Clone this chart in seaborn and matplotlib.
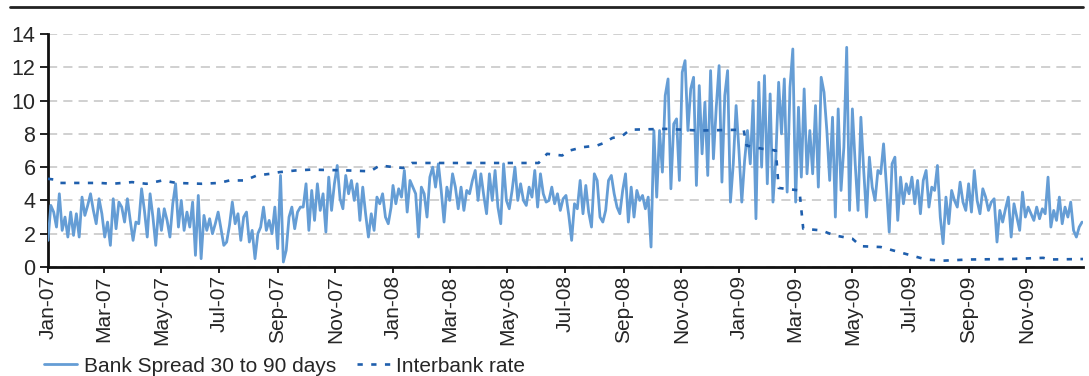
import matplotlib
matplotlib.use("Agg")
import matplotlib.pyplot as plt
import matplotlib.dates as mdates
from matplotlib.lines import Line2D
import numpy as np
import pandas as pd
import seaborn as sns

# Bank spread 30 to 90 days, one reading every third day
spread_2007 = [
    1.6, 3.7, 3.3, 2.4, 4.4, 2.2, 3.0, 1.8, 3.3, 1.9,
    3.2, 1.8, 4.2, 3.1, 3.7, 4.4, 3.4, 2.6, 4.1, 3.2,
    1.8, 2.7, 1.3, 4.1, 2.3, 3.9, 3.6, 2.7, 4.1, 2.8,
    1.6, 2.7, 2.6, 4.7, 3.4, 1.8, 4.4, 3.0, 1.3, 3.5,
    2.2, 3.5, 2.8, 1.8, 3.8, 5.0, 2.4, 4.0, 2.2, 3.3,
    2.4, 3.9, 0.7, 4.3, 0.5, 3.1, 2.2, 2.9, 2.0, 2.6,
    3.3, 2.3, 1.3, 1.5, 2.5, 3.9, 2.6, 3.2, 1.6, 3.0,
    3.3, 1.5, 2.2, 0.5, 2.0, 2.4, 3.6, 2.2, 2.8, 2.0,
    3.6, 1.1, 5.5, 0.3, 1.0, 3.0, 3.6, 2.3, 3.3, 3.6,
    3.6, 5.0, 2.2, 4.6, 2.8, 5.0, 3.4, 4.4, 2.1, 5.4,
    3.4, 5.0, 6.1, 4.1, 3.5, 5.5, 4.4, 5.2, 4.0, 5.0,
    2.8, 4.8, 3.2, 1.8, 3.2, 2.2, 4.2, 3.8, 4.4, 3.0,
    2.6, 3.6,
]

spread_2008 = [
    4.9, 3.8, 4.7, 4.2, 5.8, 3.3, 5.2, 4.8, 4.4, 1.8,
    4.8, 4.4, 3.0, 5.4, 6.0, 4.8, 6.2, 4.6, 2.7, 4.8,
    4.0, 5.6, 4.8, 3.5, 4.8, 3.4, 4.6, 4.4, 5.2, 5.8,
    4.0, 5.6, 4.3, 3.2, 5.6, 4.0, 5.8, 3.6, 2.6, 6.2,
    4.0, 3.5, 4.6, 6.0, 4.0, 5.0, 4.0, 3.7, 4.8, 4.2,
    5.8, 3.6, 5.6, 4.4, 3.9, 4.0, 4.8, 3.8, 4.4, 3.4,
    4.1,
    4.3, 3.1, 1.6, 3.8, 3.5, 5.2, 3.2, 4.9, 3.3, 2.4,
    5.6, 5.2, 3.0, 2.7, 3.4, 5.2, 5.5, 4.4, 3.6, 3.2,
    4.6, 5.6, 2.7, 4.8, 3.0, 4.6, 4.0, 4.3, 3.5, 4.2,
    1.2,
    8.2, 4.2, 8.2, 5.7, 10.3, 11.3, 4.7, 8.6, 8.9, 5.2,
    11.7, 12.4, 8.2, 10.7, 11.4, 4.9, 10.9, 6.8, 9.9, 5.5,
    11.8, 6.5, 9.6, 12.1, 5.1, 10.3, 11.8, 3.9, 6.2, 9.7,
]

spread_2009 = [
    7.0, 3.9, 6.4, 8.2, 6.2, 10.0, 2.9, 11.1, 6.0, 11.5,
    5.0, 10.4, 3.9, 6.5, 11.1, 8.0, 11.3, 4.5, 10.8, 13.1,
    3.9, 9.6, 5.4, 10.7, 5.6, 8.2, 5.6, 9.7, 4.8, 11.4,
    10.5, 8.2, 5.2, 9.0, 3.0, 9.5, 4.6, 7.2, 13.2, 3.4,
    9.5, 6.2, 3.4, 9.0, 5.8, 3.0, 6.6, 4.8, 4.0, 5.8,
    5.6, 7.4, 4.9, 2.1, 6.2, 6.6, 2.8, 5.4, 3.8, 5.0,
    4.4, 5.4, 3.8, 5.2, 3.2, 5.2, 5.8, 3.6, 4.8, 4.6,
    6.1, 3.0, 1.4, 4.2, 2.6, 4.6, 4.0, 3.6, 5.1, 3.9,
    3.4, 5.0, 3.3, 5.8, 4.0, 3.2, 4.7, 4.2, 3.4, 3.9,
    4.1, 1.5, 3.4, 2.7, 3.5, 4.2, 1.8, 3.8, 3.0, 2.2,
    4.5, 3.0, 3.6, 3.2, 2.8, 3.6, 2.9, 3.5, 3.2, 5.4,
    2.4, 3.4, 2.8, 4.2, 2.6, 3.6, 3.0, 3.9, 2.2, 1.8,
    2.4, 2.7,
]

# Interbank rate at the dates where it changes level
interbank_dates = [
    "2007-01-01", "2007-01-08", "2007-01-12", "2007-02-25", "2007-03-10",
    "2007-03-31", "2007-04-15", "2007-05-02", "2007-05-17", "2007-06-13",
    "2007-07-01", "2007-07-12", "2007-07-28", "2007-08-10", "2007-08-24",
    "2007-09-03", "2007-09-20", "2007-10-06", "2007-11-15", "2007-12-08",
    "2007-12-18", "2008-01-02", "2008-01-12", "2008-01-21", "2008-06-03",
    "2008-06-12", "2008-06-28", "2008-07-06", "2008-07-20", "2008-08-04",
    "2008-08-11", "2008-08-20", "2008-08-31", "2008-09-08", "2008-10-15",
    "2008-11-20", "2009-01-06", "2009-01-09", "2009-01-26", "2009-02-09",
    "2009-02-12", "2009-03-06", "2009-03-10", "2009-03-29", "2009-04-12",
    "2009-05-01", "2009-05-10", "2009-05-31", "2009-06-16", "2009-07-02",
    "2009-07-18", "2009-08-05", "2009-09-01", "2009-10-15", "2009-11-19",
    "2009-11-25", "2009-12-31",
]
interbank_values = [
    5.3, 5.25, 5.05, 5.05, 5.0,
    5.1, 5.0, 5.2, 5.05, 5.0,
    5.05, 5.2, 5.2, 5.5, 5.6,
    5.7, 5.8, 5.85, 5.8, 5.75,
    6.1, 6.0, 5.95, 6.25, 6.25,
    6.8, 6.7, 7.0, 7.2, 7.3,
    7.45, 7.75, 7.9, 8.25, 8.3,
    8.2, 8.25, 7.3, 7.1, 7.0,
    4.75, 4.6, 2.3, 2.2, 1.9,
    1.7, 1.25, 1.2, 0.95, 0.7,
    0.45, 0.38, 0.45, 0.48, 0.55,
    0.45, 0.48,
]

spread_dates = np.concatenate([
    pd.date_range("2007-01-01", periods=len(spread_2007), freq="3D"),
    pd.date_range("2008-01-01", periods=len(spread_2008), freq="3D"),
    pd.date_range("2009-01-01", periods=len(spread_2009), freq="3D"),
])
spread = pd.DataFrame({
    "date": pd.to_datetime(spread_dates),
    "value": spread_2007 + spread_2008 + spread_2009,
})
interbank = pd.DataFrame({
    "date": pd.to_datetime(interbank_dates),
    "value": interbank_values,
})

sns.set_theme(style="white")
plt.rcParams["font.family"] = ["Liberation Sans", "DejaVu Sans"]

W, H = 1089, 376
fig = plt.figure(figsize=(W / 100, H / 100), dpi=100)
ax = fig.add_axes([48 / W, 1 - 267 / H, (1083 - 48) / W, (267 - 34) / H])

sns.lineplot(data=spread, x="date", y="value", ax=ax, color="#659DD5",
             linewidth=2.0, label="Bank Spread 30 to 90 days", zorder=3)
sns.lineplot(data=interbank, x="date", y="value", ax=ax, color="#1F5FAD",
             linewidth=1.9, linestyle=(0, (2.0, 3.2)),
             label="Interbank rate", zorder=4)

ax.set_xlim(pd.Timestamp("2007-01-01"), pd.Timestamp("2009-12-31"))
ax.set_ylim(0, 14)
ax.set_yticks(range(0, 15, 2))
ax.set_xlabel("")
ax.set_ylabel("")

ax.xaxis.set_major_locator(mdates.MonthLocator(bymonth=[1, 3, 5, 7, 9, 11]))
ax.xaxis.set_major_formatter(mdates.DateFormatter("%b-%y"))
plt.setp(ax.get_xticklabels(), rotation=90, ha="center", va="top")

ax.yaxis.grid(True, color="#C4C4C4", linestyle=(0, (6, 4)), linewidth=1.1)
ax.xaxis.grid(False)
ax.set_axisbelow(True)

for side in ("top", "right"):
    ax.spines[side].set_visible(False)
for side in ("left", "bottom"):
    ax.spines[side].set_color("#111111")
    ax.spines[side].set_linewidth(2.0)

ax.tick_params(axis="y", direction="out", length=6, width=1.3,
               color="#111111", labelsize=15.5, pad=3, left=True)
ax.tick_params(axis="x", direction="out", length=4, width=1.3,
               color="#111111", labelsize=15, pad=2, bottom=True)

ax.get_legend().remove()
handles, labels = ax.get_legend_handles_labels()
fig.legend(handles, labels, loc="center left",
           bbox_to_anchor=(44 / W, 1 - 366 / H), ncol=2, frameon=False,
           fontsize=15, handlelength=1.6, handletextpad=0.3,
           columnspacing=1.0, borderpad=0, borderaxespad=0)

# heavy rule across the top of the panel
fig.add_artist(Line2D([10 / W, 1083 / W], [1 - 7 / H, 1 - 7 / H],
                      color="#222222", linewidth=2.0))

fig.savefig("out.png", dpi=100)
